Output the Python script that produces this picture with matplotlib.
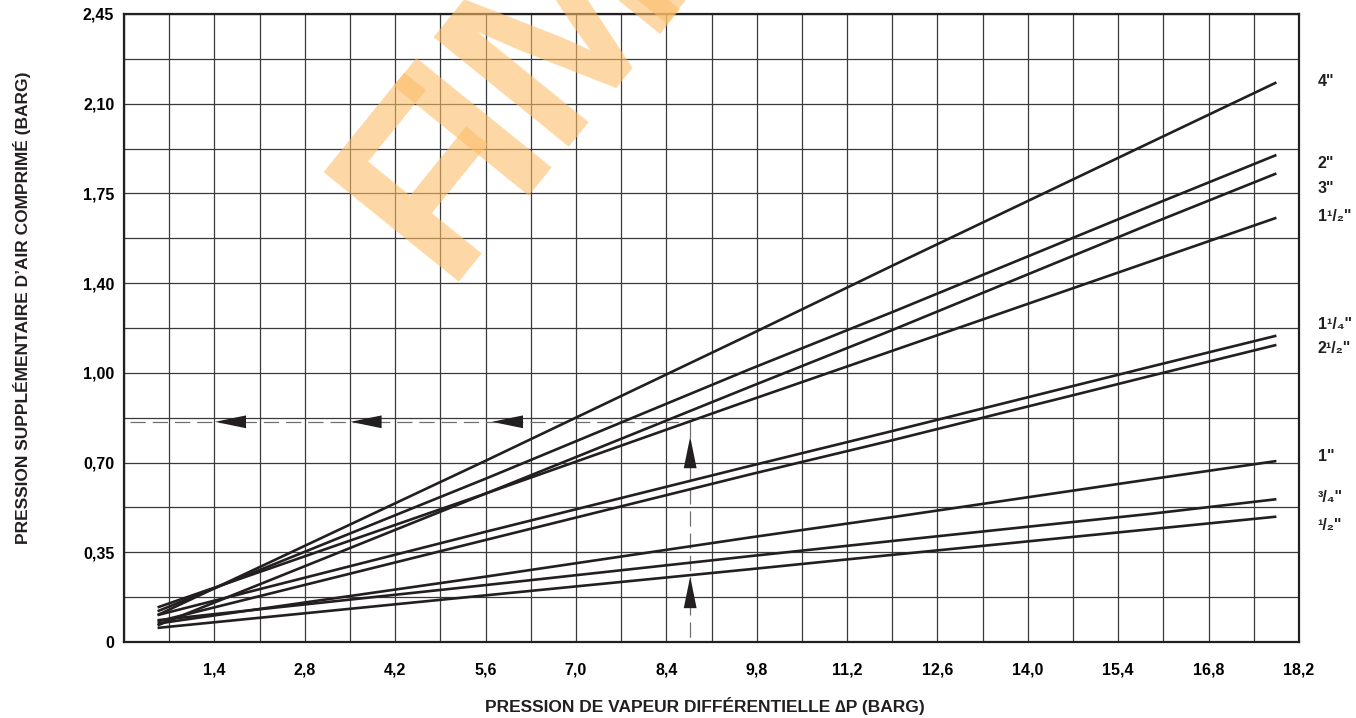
import numpy as np
import matplotlib
matplotlib.use("Agg")
import matplotlib.pyplot as plt

# pressure de vapeur (barg) where the curves were read
x_pts = [0.52, 5.6, 9.7, 11.9, 15.9, 17.85]

# pression d'air supplementaire (barg) per pipe size
sizes = ['4"', '2"', '3"', '1¹/₂"', '1¹/₄"', '2¹/₂"', '1"', '³/₄"', '¹/₂"']
curves = [
    [0.105, 0.707, 1.200, 1.468, 1.949, 2.183],   # 4"
    [0.120, 0.637, 1.065, 1.287, 1.701, 1.900],   # 2"
    [0.065, 0.579, 0.996, 1.217, 1.631, 1.828],   # 3"
    [0.135, 0.579, 0.944, 1.136, 1.485, 1.655],   # 1 1/2"
    [0.105, 0.430, 0.687, 0.823, 1.074, 1.195],   # 1 1/4"
    [0.080, 0.398, 0.654, 0.787, 1.038, 1.159],   # 2 1/2"
    [0.072, 0.255, 0.408, 0.487, 0.635, 0.706],   # 1"
    [0.085, 0.222, 0.335, 0.394, 0.500, 0.557],   # 3/4"
    [0.055, 0.182, 0.284, 0.340, 0.440, 0.489],   # 1/2"
]
label_y = [2.185, 1.865, 1.770, 1.660, 1.237, 1.145, 0.722, 0.562, 0.455]

x_ticks = [1.4, 2.8, 4.2, 5.6, 7.0, 8.4, 9.8, 11.2, 12.6, 14.0, 15.4, 16.8, 18.2]
x_tick_labels = ['1,4', '2,8', '4,2', '5,6', '7,0', '8,4', '9,8', '11,2',
                 '12,6', '14,0', '15,4', '16,8', '18,2']
y_ticks = [0, 0.35, 0.70, 1.05, 1.40, 1.75, 2.10, 2.45]
y_tick_labels = ['0', '0,35', '0,70', '1,00', '1,40', '1,75', '2,10', '2,45']

# example reading (dashed path + arrow heads)
ex_x, ex_y = 8.77, 0.859
ex_x_start = 0.10
left_arrow_tips = [1.41, 3.51, 5.70]
up_arrow_tips = [0.801, 0.255]

# watermark letters, bottom-left anchor in pixels of the image (from top)
wm_letters = ['F', 'I', 'M', 'M']
wm_anchor_px = [(442, 282), (512, 196), (552, 147), (650, 24)]

W, H = 1356, 718
plt.rcParams['lines.scale_dashes'] = False
tick_font = ['Liberation Sans', 'DejaVu Sans']
title_font = ['Liberation Sans', 'DejaVu Sans']
ink = '#231f20'

fig = plt.figure(figsize=(W / 100, H / 100), dpi=100)
ax = fig.add_axes([124 / W, 1 - 642 / H, (1299 - 124) / W, (642 - 14) / H])

ax.set_xlim(0, 18.2)
ax.set_ylim(0, 2.45)
ax.set_xticks(np.arange(0, 18.21, 0.7), minor=True)
ax.set_yticks(np.arange(0, 2.451, 0.175), minor=True)
ax.set_xticks(x_ticks)
ax.set_xticklabels(x_tick_labels, fontfamily=tick_font, fontweight='bold', fontsize=11.5)
ax.set_yticks(y_ticks)
ax.set_yticklabels(y_tick_labels, fontfamily=tick_font, fontweight='bold', fontsize=11.5)
ax.tick_params(which='both', length=0)
ax.tick_params(axis='x', pad=15)
ax.tick_params(axis='y', pad=7)
ax.grid(which='both', color='#3a3a3a', lw=0.9)
ax.set_axisbelow(True)
for s in ax.spines.values():
    s.set_linewidth(1.6)
    s.set_color(ink)

for vals in curves:
    ax.plot(x_pts, vals, color=ink, lw=1.9, solid_capstyle='butt', zorder=3)

for lab, ly in zip(sizes, label_y):
    ax.text(1.016, ly, lab, transform=ax.get_yaxis_transform(), ha='left', va='center',
            fontsize=11.5, fontweight='bold', family=tick_font, color=ink, clip_on=False)

# dashed reading path
ax.plot([ex_x_start, ex_x], [ex_y, ex_y], color='#707070', lw=0.9, dashes=(11, 5), zorder=2)
ax.plot([ex_x, ex_x], [ex_y, 0], color='#707070', lw=0.9, dashes=(11, 5), zorder=2)
a_len, a_half = 0.48, 0.025
for tx in left_arrow_tips:
    ax.fill([tx, tx + a_len, tx + a_len], [ex_y, ex_y + a_half, ex_y - a_half],
            color=ink, lw=0, zorder=4)
u_len, u_half = 0.123, 0.1
for ty in up_arrow_tips:
    ax.fill([ex_x, ex_x - u_half, ex_x + u_half], [ty, ty - u_len, ty - u_len],
            color=ink, lw=0, zorder=4)

# axis titles
fig.text(705 / W, 1 - 706 / H, 'PRESSION DE VAPEUR DIFFÉRENTIELLE ∆P (BARG)',
         ha='center', va='center', fontsize=12.5, fontweight='bold', family=title_font, color=ink)
fig.text(22 / W, 1 - 308 / H, 'PRESSION SUPPLÉMENTAIRE D’AIR COMPRIMÉ (BARG)',
         ha='center', va='center', rotation=90, fontsize=12.5, fontweight='bold',
         family=title_font, color=ink)

# watermark
for ch, (px, py) in zip(wm_letters, wm_anchor_px):
    fig.text(px / W, 1 - py / H, ch, rotation=51, rotation_mode='anchor',
             ha='left', va='baseline', fontsize=182, fontweight='bold',
             family=title_font, color=(252 / 255, 190 / 255, 105 / 255), alpha=0.6, zorder=10)

fig.savefig('out.png', dpi=100)
